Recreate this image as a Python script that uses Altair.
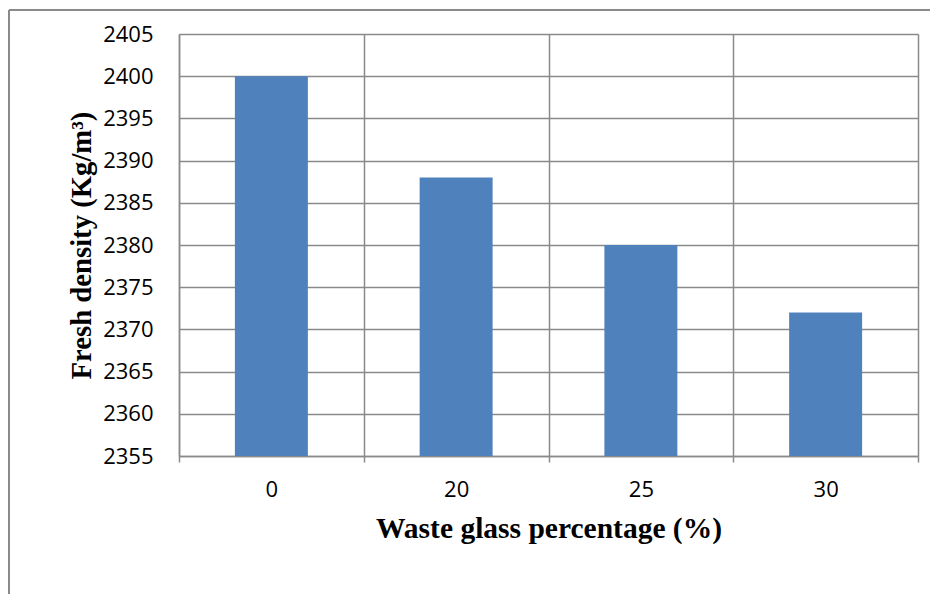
import altair as alt
import pandas as pd

categories = ["0", "20", "25", "30"]
densities = [2400, 2388, 2380, 2372]
y_ticks = [2355, 2360, 2365, 2370, 2375, 2380, 2385, 2390, 2395, 2400, 2405]

df = pd.DataFrame({"pct": categories, "density": densities})

W, H = 739, 422
GRID = "#8a8a8a"

bars = alt.Chart(df).mark_bar(color="#4f81bd", clip=True,
                              width=alt.RelativeBandSize(0.395)).encode(
    x=alt.X("pct:N", sort=categories,
            scale=alt.Scale(paddingInner=0, paddingOuter=0),
            axis=alt.Axis(title="Waste glass percentage (%)", labelAngle=0,
                          tickBand="extent", grid=True, gridColor=GRID, gridWidth=1.5,
                          domainColor=GRID, domainWidth=1.5,
                          tickColor=GRID, tickWidth=1.5, tickSize=6,
                          labelFont="Open Sans", labelFontSize=22, labelColor="black",
                          labelPadding=17,
                          titleFont="Liberation Serif", titleFontSize=29.5,
                          titleFontWeight="bold", titleColor="black", titlePadding=14)),
    y=alt.Y("density:Q",
            scale=alt.Scale(domain=[2355, 2405], nice=False, zero=False),
            axis=alt.Axis(title="Fresh density (Kg/m³)", values=y_ticks, ticks=False,
                          format="d",
                          grid=True, gridColor=GRID, gridWidth=1.5,
                          domainColor=GRID, domainWidth=1.5,
                          labelFont="Open Sans", labelFontSize=22, labelColor="black",
                          labelPadding=26,
                          titleFont="Liberation Serif", titleFontSize=28.7,
                          titleFontWeight="bold", titleColor="black", titlePadding=6)),
)

frame_left = alt.Chart(df).mark_rule(color=GRID, strokeWidth=1.5).encode(
    x=alt.value(-170), y=alt.value(-24), y2=alt.value(H + 150))
frame_top = alt.Chart(df).mark_rule(color=GRID, strokeWidth=1.5).encode(
    x=alt.value(-170), x2=alt.value(W + 40), y=alt.value(-24))

chart = alt.layer(bars, frame_left, frame_top).properties(
    width=W, height=H,
    autosize=alt.AutoSizeParams(type="none"),
    padding={"left": 171, "top": 26, "right": 12, "bottom": 138},
).configure_view(stroke=GRID, strokeWidth=1.5).configure(background="white")

chart.save("out.html", embed_options={"renderer": "svg", "actions": False})
